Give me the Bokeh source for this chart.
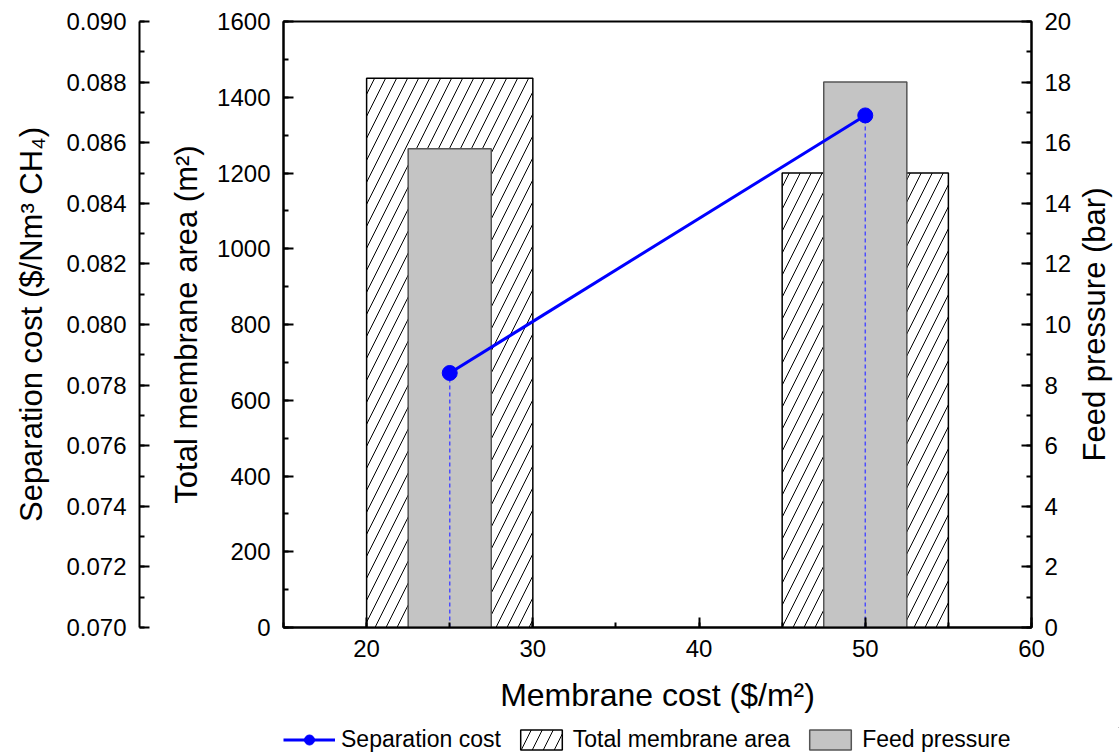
from bokeh.embed import file_html
from bokeh.layouts import column, row
from bokeh.models import (FixedTicker, Legend, LegendItem, LinearAxis,
                          NumeralTickFormatter, Range1d, SingleIntervalTicker,
                          Title)
from bokeh.plotting import figure
from bokeh.resources import INLINE

# ---- data -------------------------------------------------------------
membrane_cost = [25, 50]                 # $/m2
total_membrane_area = [1450, 1200]       # m2
feed_pressure = [15.8, 18.0]             # bar
separation_cost = [0.0784, 0.0869]       # $/Nm3 CH4

area_bar_width = 10
pressure_bar_width = 5

x_lim = (15, 60)
area_lim = (0, 1600)
pressure_lim = (0, 20)
cost_lim = (0.070, 0.090)

FONT = "Liberation Sans"
TICK_FONT = "24px"
TITLE_FONT = "31px"

p = figure(width=1074, height=727, output_backend="svg", toolbar_location=None,
           x_range=Range1d(*x_lim), y_range=Range1d(*area_lim),
           min_border_left=283, min_border_right=42,
           min_border_top=21, min_border_bottom=100)
p.extra_y_ranges = {"pressure": Range1d(*pressure_lim),
                    "cost": Range1d(*cost_lim)}
p.grid.visible = False
p.outline_line_color = "black"
p.outline_line_width = 2
p.background_fill_color = "white"
p.border_fill_color = "white"


def style_axis(ax, interval, label, label_standoff):
    ax.ticker = SingleIntervalTicker(interval=interval, num_minor_ticks=2)
    ax.major_tick_in = 10
    ax.major_tick_out = 0
    ax.minor_tick_in = 5
    ax.minor_tick_out = 0
    ax.axis_line_width = 2
    ax.major_tick_line_width = 2
    ax.minor_tick_line_width = 2
    ax.axis_line_color = "black"
    ax.major_tick_line_color = "black"
    ax.minor_tick_line_color = "black"
    ax.major_label_text_font = FONT
    ax.major_label_text_font_size = TICK_FONT
    ax.major_label_text_color = "black"
    ax.major_label_standoff = 13
    ax.axis_label = label
    ax.axis_label_text_font = FONT
    ax.axis_label_text_font_size = TITLE_FONT
    ax.axis_label_text_font_style = "normal"
    ax.axis_label_text_color = "black"
    ax.axis_label_standoff = label_standoff


# x axis
style_axis(p.xaxis[0], 10, "Membrane cost ($/m²)", 17)
p.xaxis[0].major_label_standoff = 12
p.xaxis[0].axis_label_text_font_size = "32px"

# inner left axis: total membrane area
style_axis(p.yaxis[0], 200, "Total membrane area (m²)", 10)

# invisible axis that keeps a gap before the outer cost axis
spacer = LinearAxis(ticker=FixedTicker(ticks=[area_lim[0]]), axis_line_alpha=0,
                    major_tick_in=0, major_tick_out=27, major_tick_line_alpha=0,
                    minor_tick_in=0, minor_tick_out=0, minor_tick_line_alpha=0,
                    major_label_standoff=0, major_label_text_font_size="0px",
                    major_label_text_alpha=0)
p.add_layout(spacer, "left")

# outer left axis: separation cost
cost_axis = LinearAxis(y_range_name="cost")
style_axis(cost_axis, 0.002, "Separation cost ($/Nm³ CH₄)", 14)
cost_axis.formatter = NumeralTickFormatter(format="0.000")
p.add_layout(cost_axis, "left")

# right axis: feed pressure (its title sits in the narrow strip to the right)
pressure_axis = LinearAxis(y_range_name="pressure")
style_axis(pressure_axis, 2, None, 0)
p.add_layout(pressure_axis, "right")

# ---- glyphs -----------------------------------------------------------
area_style = dict(fill_color="white", hatch_pattern="/", hatch_color="black",
                  hatch_weight=1, hatch_scale=22, line_color="black", line_width=1.5)
pressure_style = dict(fill_color="#c4c4c4", line_color="#555555", line_width=1.5)
line_style = dict(line_color="#0000ff", line_width=3)
dot_style = dict(size=15, fill_color="#0000ff", line_color="#0000ff")

p.vbar(x=membrane_cost, top=total_membrane_area, bottom=area_lim[0],
       width=area_bar_width, **area_style)

p.vbar(x=membrane_cost, top=feed_pressure, bottom=pressure_lim[0],
       width=pressure_bar_width, y_range_name="pressure", **pressure_style)

p.segment(x0=membrane_cost, y0=[cost_lim[0]] * len(membrane_cost),
          x1=membrane_cost, y1=separation_cost, y_range_name="cost",
          line_color="#4d4dff", line_width=1.5, line_dash="4 3")

p.line(membrane_cost, separation_cost, y_range_name="cost", **line_style)
p.scatter(membrane_cost, separation_cost, y_range_name="cost", **dot_style)

# ---- right-hand title strip (reads bottom to top) -----------------------
side = figure(width=45, height=727, output_backend="svg", toolbar_location=None,
              x_axis_type=None, y_axis_type=None,
              min_border_left=0, min_border_right=0,
              min_border_top=21, min_border_bottom=100)
side.grid.visible = False
side.outline_line_color = None
side.background_fill_color = "white"
side.border_fill_color = "white"
side.add_layout(Title(text="Feed pressure (bar)", align="center", standoff=0,
                      text_font=FONT, text_font_size=TITLE_FONT,
                      text_font_style="normal", text_color="black"), "left")

# ---- legend strip under the chart ---------------------------------------
# The key figure's ranges keep its copies of the series out of view,
# so only the legend entries show.
key = figure(width=1119, height=26, output_backend="svg", toolbar_location=None,
             x_axis_type=None, y_axis_type=None, min_border=0,
             x_range=Range1d(-2, -1), y_range=Range1d(-2, -1))
key.grid.visible = False
key.outline_line_color = None
key.background_fill_color = "white"
key.border_fill_color = "white"

key_line = key.line(membrane_cost, separation_cost, **line_style)
key_dot = key.scatter(membrane_cost, separation_cost, **dot_style)
key_area = key.vbar(x=membrane_cost, top=total_membrane_area,
                    width=area_bar_width, **area_style)
key_pressure = key.vbar(x=membrane_cost, top=feed_pressure,
                        width=pressure_bar_width, **pressure_style)

legend = Legend(items=[
    LegendItem(label="Separation cost", renderers=[key_line, key_dot]),
    LegendItem(label="Total membrane area", renderers=[key_area]),
    LegendItem(label="Feed pressure", renderers=[key_pressure]),
], orientation="horizontal", location=(283, 0),
    glyph_width=52, glyph_height=25, label_standoff=6, spacing=14,
    padding=0, margin=0, border_line_alpha=0, background_fill_alpha=0,
    label_text_font=FONT, label_text_font_size="23px",
    label_text_color="black")
key.add_layout(legend)

layout = column(row(p, side, spacing=0), key, spacing=0)
open("out.html", "w").write(file_html(layout, INLINE))
